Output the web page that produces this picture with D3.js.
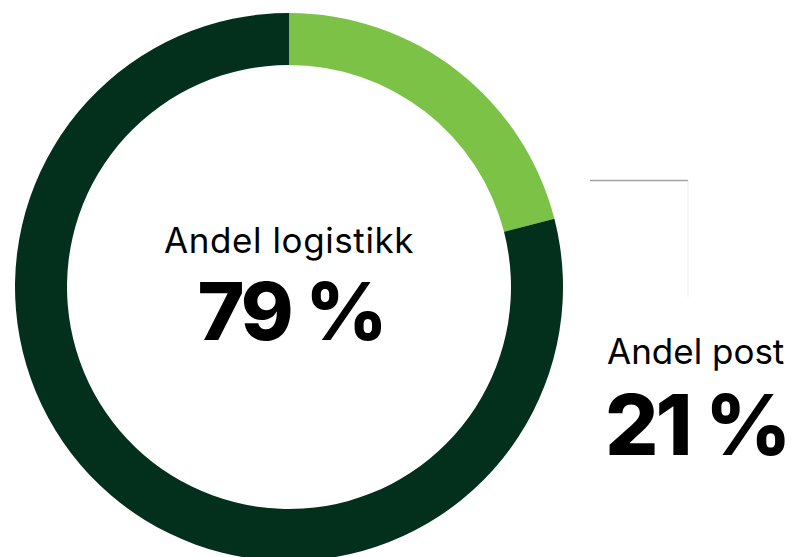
<!DOCTYPE html>
<html>
<head>
<meta charset="utf-8">
<script src="https://cdn.jsdelivr.net/npm/d3@7"></script>
<style>
  body { margin: 0; background: #fff; }
  text { font-family: Inter, "Noto Sans", sans-serif; fill: #000; }
</style>
</head>
<body>
<div id="container"></div>
<script>
/* DATA */
const categories = ["post", "logistikk"];
const shares = [21, 79];
const labels = ["Andel post", "Andel logistikk"];
const colors = ["#7cc247", "#02301c"];

/* SIZES */
const width = 793;
const height = 557;
const cx = 289, cy = 287;
const outerR = 274, innerR = 222;

const svg = d3.select("#container")
  .append("svg")
    .attr("width", width)
    .attr("height", height);

const g = svg.append("g")
  .attr("transform", "translate(" + cx + "," + cy + ")");

const pie = d3.pie().sort(null).value(d => d);
const arc = d3.arc().innerRadius(innerR).outerRadius(outerR);

g.selectAll("path.slice")
  .data(pie(shares))
  .join("path")
  .attr("class", "slice")
  .attr("d", arc)
  .attr("fill", (d, i) => colors[i]);

/* leader line for post */
svg.append("line")
  .attr("x1", 590).attr("x2", 688)
  .attr("y1", 180.5).attr("y2", 180.5)
  .attr("stroke", "#a3a3a3")
  .attr("stroke-width", 1.5);
svg.append("line")
  .attr("x1", 688).attr("x2", 688)
  .attr("y1", 181).attr("y2", 297)
  .attr("stroke", "#ececec")
  .attr("stroke-width", 1);

/* center label: logistikk */
svg.append("text")
  .attr("x", cx).attr("y", 253)
  .attr("text-anchor", "middle")
  .style("font-size", "35px")
  .style("letter-spacing", "0.6px")
  .text(labels[1]);
svg.append("text")
  .attr("x", cx + 2).attr("y", 340)
  .attr("text-anchor", "middle")
  .style("font-size", "80px")
  .style("font-weight", 800)
  .style("letter-spacing", "-3px")
  .text(shares[1] + " %");

/* side label: post */
svg.append("text")
  .attr("x", 607).attr("y", 364)
  .style("font-size", "35px")
  .text(labels[0]);
svg.append("text")
  .attr("x", 605).attr("y", 455)
  .style("font-size", "84px")
  .style("font-weight", 800)
  .style("letter-spacing", "-3px")
  .text(shares[0] + " %");
</script>
</body>
</html>
